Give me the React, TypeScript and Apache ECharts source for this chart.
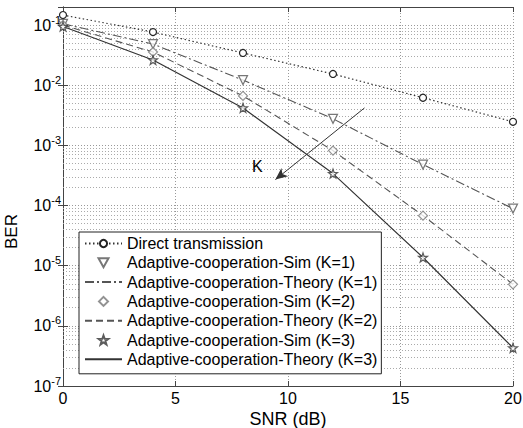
import React, { useEffect, useRef } from "react";
import * as echarts from "echarts";

const snr = [0, 4, 8, 12, 16, 20];
const directBer = [0.147, 0.0766, 0.0344, 0.0154, 0.0062, 0.00247];
const k1Ber = [0.105, 0.0484, 0.0122, 0.00277, 0.00048, 0.000089];
const k2Ber = [0.1, 0.0357, 0.00665, 0.00082, 0.000068, 0.0000049];
const k3Ber = [0.095, 0.0263, 0.0042, 0.00034, 0.0000137, 0.00000043];
const seriesNames = [
  "Direct transmission",
  "Adaptive-cooperation-Sim (K=1)",
  "Adaptive-cooperation-Theory (K=1)",
  "Adaptive-cooperation-Sim (K=2)",
  "Adaptive-cooperation-Theory (K=2)",
  "Adaptive-cooperation-Sim (K=3)",
  "Adaptive-cooperation-Theory (K=3)",
];
const xTicks = { min: 0, max: 20, interval: 5 };
const yRange = { min: 1e-7, max: 0.2 };
const minorMultipliers = [2, 3, 4, 5, 6, 7, 8, 9];
const decades = [-7, -6, -5, -4, -3, -2, -1];
const arrowFrom = [13.4, 4.2e-3];
const arrowTo = [9.44, 2.7e-4];
const kLabelAt = [8.64, 4.4e-4];

const FONT = "'Liberation Sans', Arial, Helvetica, sans-serif";
const STAR =
  "path://M0,-10 L2.35,-3.24 L9.51,-3.09 L3.8,1.24 L5.88,8.09 L0,4 L-5.88,8.09 L-3.8,1.24 L-9.51,-3.09 L-2.35,-3.24 Z";
const TRI_DOWN = "path://M-5,-4 L5,-4 L0,5 Z";
const DIAMOND = "path://M0,-5 L5,0 L0,5 L-5,0 Z";

function pairs(vals: number[]) {
  return snr.map((x, i) => [x, vals[i]]);
}

export default function App() {
  const ref = useRef<HTMLDivElement>(null);
  useEffect(() => {
    if (!ref.current) return;
    const chart = echarts.init(ref.current, undefined, { renderer: "svg" });

    const minorValues: number[] = [];
    decades.forEach((d) =>
      minorMultipliers.forEach((m) => {
        const v = m * Math.pow(10, d);
        if (v < yRange.max) minorValues.push(v);
      })
    );

    const markerStyle = (c: string) => ({ color: "#fff", borderColor: c, borderWidth: 1.2 });
    const hiddenDot = { color: "transparent", borderColor: "transparent", borderWidth: 0 };

    chart.setOption({
      animation: false,
      backgroundColor: "#fff",
      textStyle: { fontFamily: FONT },
      grid: {
        left: 63,
        top: 7,
        right: 10,
        bottom: 42,
        show: false,
        containLabel: false,
        outerBoundsMode: "none",
      },
      legend: {
        data: [
          { name: seriesNames[0] },
          { name: seriesNames[1] },
          { name: seriesNames[2], itemStyle: hiddenDot },
          { name: seriesNames[3] },
          { name: seriesNames[4], itemStyle: hiddenDot },
          { name: seriesNames[5] },
          { name: seriesNames[6], itemStyle: hiddenDot },
        ],
        orient: "vertical",
        left: 79,
        top: 232,
        itemWidth: 37,
        itemHeight: 9,
        itemGap: 2.3,
        backgroundColor: "#fff",
        borderColor: "#222",
        borderWidth: 1,
        borderRadius: 0,
        padding: [3, 4, 6, 5],
        textStyle: { fontSize: 16, color: "#000", fontFamily: FONT, lineHeight: 17 },
        selectedMode: false,
      },
      xAxis: [
        {
          type: "value",
          min: xTicks.min,
          max: xTicks.max,
          interval: xTicks.interval,
          name: "SNR (dB)",
          nameLocation: "middle",
          nameGap: 24,
          nameMoveOverlap: false,
          nameTextStyle: { fontSize: 18, color: "#000", fontFamily: FONT },
          axisLine: { show: true, lineStyle: { color: "#444", width: 1 } },
          axisTick: { show: true, inside: true, length: 5, lineStyle: { color: "#444" } },
          axisLabel: { fontSize: 16, color: "#000", margin: 4, fontFamily: FONT },
          splitLine: { show: true, lineStyle: { color: "#999", type: [1, 2], width: 1 } },
        },
        {
          type: "value",
          position: "top",
          min: xTicks.min,
          max: xTicks.max,
          interval: xTicks.interval,
          axisLine: { show: true, lineStyle: { color: "#444", width: 1 } },
          axisTick: { show: true, inside: true, length: 5, lineStyle: { color: "#444" } },
          axisLabel: { show: false },
          splitLine: { show: false },
        },
      ],
      yAxis: [
        {
          type: "log",
          logBase: 10,
          min: yRange.min,
          max: yRange.max,
          splitNumber: 6,
          name: "BER",
          nameLocation: "middle",
          nameGap: 43,
          nameMoveOverlap: false,
          nameRotate: 90,
          nameTextStyle: { fontSize: 17, color: "#000", fontFamily: FONT, padding: [0, 70, 0, 0] },
          axisLine: { show: true, lineStyle: { color: "#444", width: 1 } },
          axisTick: { show: true, inside: true, length: 5, lineStyle: { color: "#444" } },
          axisLabel: {
            margin: 2,
            color: "#000",
            formatter: (v: number) => {
              const l = Math.log10(v);
              const e = Math.round(l);
              if (Math.abs(l - e) > 1e-6) return "";
              return "{b|10}{s|" + e + "}";
            },
            rich: {
              b: { fontSize: 16, fontFamily: FONT, color: "#000" },
              s: { fontSize: 11, fontFamily: FONT, color: "#000", padding: [0, 0, 11, 0] },
            },
          },
          splitLine: { show: true, lineStyle: { color: "#999", type: [1, 2], width: 1 } },
        },
        {
          type: "log",
          logBase: 10,
          position: "right",
          min: yRange.min,
          max: yRange.max,
          splitNumber: 6,
          axisLine: { show: true, lineStyle: { color: "#444", width: 1 } },
          axisTick: { show: true, inside: true, length: 5, lineStyle: { color: "#444" } },
          axisLabel: { show: false },
          splitLine: { show: false },
        },
      ],
      series: [
        {
          type: "line",
          name: "minor-grid",
          data: [],
          silent: true,
          z: 1,
          markLine: {
            silent: true,
            z: 1,
            symbol: ["none", "none"],
            label: { show: false },
            lineStyle: { color: "#aaa", type: [1, 2], width: 1 },
            data: minorValues.map((v) => [
              { coord: [xTicks.min, v] },
              { coord: [xTicks.max, v] },
            ]),
          },
        },
        {
          type: "line",
          name: seriesNames[0],
          data: pairs(directBer),
          z: 3,
          symbol: "circle",
          symbolSize: 7,
          showSymbol: true,
          itemStyle: markerStyle("#222"),
          lineStyle: { color: "#333", type: [1.5, 2.5], width: 1.2 },
        },
        {
          type: "scatter",
          name: seriesNames[1],
          data: pairs(k1Ber),
          z: 4,
          symbol: TRI_DOWN,
          symbolSize: 9,
          itemStyle: markerStyle("#555"),
        },
        {
          type: "line",
          name: seriesNames[2],
          data: pairs(k1Ber),
          z: 3,
          symbol: "none",
          lineStyle: { color: "#555", type: [9, 3, 2, 3], width: 1.1 },
          itemStyle: { color: "#555" },
        },
        {
          type: "scatter",
          name: seriesNames[3],
          data: pairs(k2Ber),
          z: 4,
          symbol: DIAMOND,
          symbolSize: 9,
          itemStyle: markerStyle("#777"),
        },
        {
          type: "line",
          name: seriesNames[4],
          data: pairs(k2Ber),
          z: 3,
          symbol: "none",
          lineStyle: { color: "#555", type: [7, 4], width: 1.1 },
          itemStyle: { color: "#555" },
        },
        {
          type: "scatter",
          name: seriesNames[5],
          data: pairs(k3Ber),
          z: 4,
          symbol: STAR,
          symbolSize: 9,
          itemStyle: markerStyle("#333"),
        },
        {
          type: "line",
          name: seriesNames[6],
          data: pairs(k3Ber),
          z: 3,
          symbol: "none",
          lineStyle: { color: "#333", type: "solid", width: 1.2 },
          itemStyle: { color: "#333" },
        },
        {
          type: "line",
          name: "annotation",
          data: [],
          silent: true,
          z: 5,
          markLine: {
            silent: true,
            symbol: ["none", "arrow"],
            symbolSize: [8, 12],
            label: { show: false },
            lineStyle: { color: "#333", type: "solid", width: 1 },
            data: [[{ coord: arrowFrom }, { coord: arrowTo }]],
          },
          markPoint: {
            silent: true,
            symbol: "circle",
            symbolSize: 1,
            itemStyle: { color: "transparent" },
            label: {
              show: true,
              formatter: "K",
              fontSize: 16,
              color: "#000",
              fontFamily: FONT,
            },
            data: [{ coord: kLabelAt }],
          },
        },
      ],
    });
    return () => chart.dispose();
  }, []);
  return (
    <div
      ref={ref}
      style={{ width: 523, height: 428, position: "fixed", left: 0, top: 0, background: "#fff" }}
    />
  );
}
